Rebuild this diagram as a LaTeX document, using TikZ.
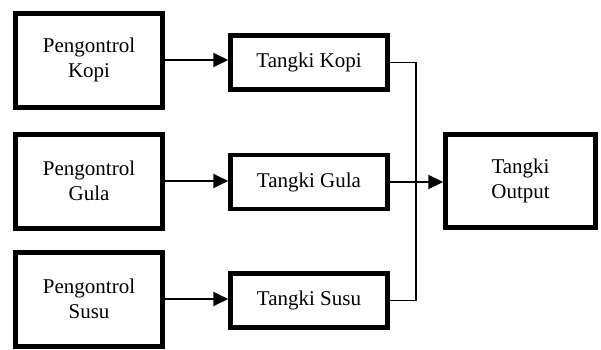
\documentclass[tikz,border=0pt]{standalone}
\usepackage{fontspec}
\setmainfont{Liberation Serif}
\usetikzlibrary{arrows.meta}
\begin{document}
\begin{tikzpicture}[x=1pt,y=-1pt,
  ctrl/.style={draw,line width=5pt,minimum width=147pt,minimum height=94pt,
    inner sep=0pt,align=center,font=\fontsize{21}{25}\selectfont},
  tank/.style={draw,line width=4.5pt,minimum width=157pt,minimum height=54pt,
    inner sep=0pt,align=center,font=\fontsize{21}{25}\selectfont},
  outbox/.style={draw,line width=4.5pt,minimum width=150pt,minimum height=93pt,
    inner sep=0pt,align=center,font=\fontsize{21}{25}\selectfont},
  flow/.style={line width=2pt,-{Triangle[length=15pt,width=14pt]}},
  merge/.style={line width=1.5pt}]
\useasboundingbox (0,0) rectangle (601,349);
% controllers
\node[ctrl] (pk) at (89,60) {Pengontrol\\Kopi};
\node[ctrl] (pg) at (89,181) {Pengontrol\\Gula};
\node[ctrl] (ps) at (89,299) {Pengontrol\\Susu};
% tanks
\node[tank] (tk) at (309,62.5) {Tangki Kopi};
\node[tank] (tg) at (309,182) {Tangki Gula};
\node[tank] (ts) at (309,300.5) {Tangki Susu};
% output tank
\node[outbox] (to) at (520.5,181) {Tangki\\Output};
% controller to tank
\draw[flow] (pk.east) -- (pk.east -| tk.west);
\draw[flow] (pg.east) -- (pg.east -| tg.west);
\draw[flow] (ps.east) -- (ps.east -| ts.west);
% merging into output tank
\coordinate (jt) at (416,62.5);
\coordinate (jb) at (416,300.5);
\draw[merge] (tk.east) -- (jt) -- (jb) -- (ts.east);
\draw[flow] (tg.east) -- (tg.east -| to.west);
\end{tikzpicture}
\end{document}
